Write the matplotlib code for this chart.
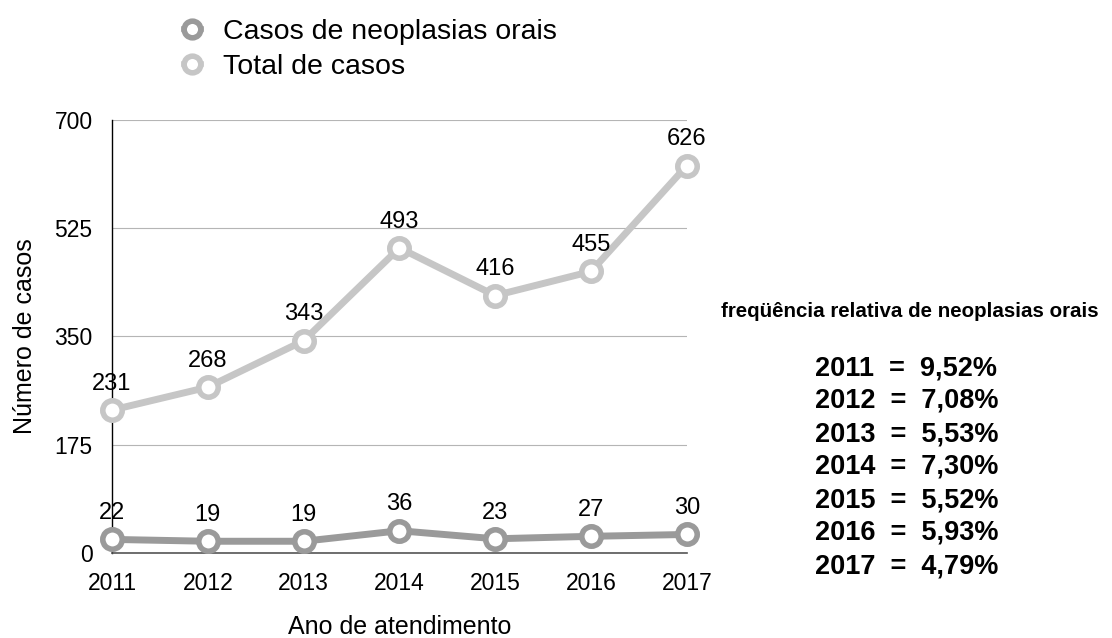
import matplotlib
matplotlib.use("Agg")
import matplotlib.pyplot as plt
from matplotlib.lines import Line2D

plt.rcParams['font.family'] = ['Liberation Sans', 'DejaVu Sans']

years = [2011, 2012, 2013, 2014, 2015, 2016, 2017]
neoplasias = [22, 19, 19, 36, 23, 27, 30]
total = [231, 268, 343, 493, 416, 455, 626]
freq_labels = ["9,52%", "7,08%", "5,53%", "7,30%", "5,52%", "5,93%", "4,79%"]
y_ticks = [0, 175, 350, 525, 700]

c_neo = '#9a9a9a'
c_tot = '#c6c6c6'

fig = plt.figure(figsize=(11.12, 6.38), dpi=100)
ax = fig.add_axes([0.1007, 0.1332, 0.517, 0.679])

for vals, col in ((total, c_tot), (neoplasias, c_neo)):
    ax.plot(years, vals, color=col, lw=5, marker='o', ms=14,
            mfc='white', mec=col, mew=4, clip_on=False, zorder=3)
    for x, v in zip(years, vals):
        ax.annotate(str(v), (x, v), xytext=(0, 11), textcoords='offset points',
                    ha='center', va='bottom', fontsize=17, color='black', zorder=4)

ax.set_xlim(years[0], years[-1])
ax.set_ylim(0, 700)
ax.set_yticks(y_ticks)
ax.set_xticks(years)
ax.tick_params(axis='y', length=0, labelsize=16.5, pad=14)
ax.tick_params(axis='x', length=0, labelsize=16.5, pad=14)
ax.yaxis.grid(True, color='#b5b5b5', lw=0.8)
ax.set_axisbelow(True)
for s in ('top', 'right'):
    ax.spines[s].set_visible(False)
ax.spines['left'].set_color('black')
ax.spines['left'].set_linewidth(1)
ax.spines['bottom'].set_color('#555555')
ax.spines['bottom'].set_linewidth(1.2)

ax.set_xlabel('Ano de atendimento', fontsize=18)
ax.set_ylabel('Número de casos', fontsize=18)
ax.xaxis.set_label_coords(0.5, -0.171)
ax.yaxis.set_label_coords(-0.151, 0.5)
ax.xaxis.label.set_va('center')
ax.yaxis.label.set_va('center')

handles = [
    Line2D([], [], color=c_neo, lw=4, marker='o', ms=12, mfc='white', mec=c_neo, mew=4),
    Line2D([], [], color=c_tot, lw=4, marker='o', ms=12, mfc='white', mec=c_tot, mew=4),
]
fig.legend(handles, ['Casos de neoplasias orais', 'Total de casos'],
           loc='upper left', bbox_to_anchor=(0.142, 1.01), frameon=False,
           fontsize=20.5, handlelength=0.6, handletextpad=0.8, labelspacing=0.3)

fig.text(0.818, 0.511, 'freqüência relativa de neoplasias orais', ha='center',
         va='center', fontsize=14.8, fontweight='bold')
for i, (yr, fl) in enumerate(zip(years, freq_labels)):
    yy = (638 - 368 - 33 * i) / 638
    fig.text(0.815, yy, f'{yr}  =  {fl}', ha='center', va='center',
             fontsize=19.5, fontweight='bold')

fig.savefig('out.png', dpi=100)
